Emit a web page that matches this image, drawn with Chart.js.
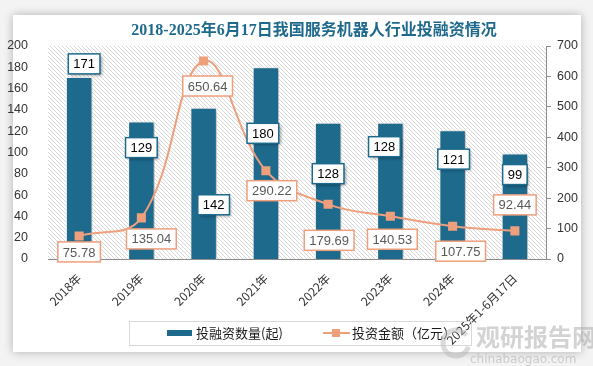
<!DOCTYPE html>
<html lang="zh">
<head>
<meta charset="UTF-8">
<title>服务机器人行业投融资情况</title>
<script src="https://cdn.jsdelivr.net/npm/chart.js"></script>
<style>
    html, body { margin: 0; padding: 0; background: #f3f3f3; }
    #wrap { position: relative; width: 593px; height: 366px; overflow: hidden; }
    #card { position: absolute; left: 13px; top: 15px; width: 568px; height: 337px; background: #fff; box-shadow: 0 0 9px rgba(0,0,0,0.28); }
    canvas { position: absolute; left: 0; top: 0; }
</style>
</head>
<body>
<div id="wrap">
    <div id="card"></div>
    <canvas id="c" width="593" height="366"></canvas>
</div>
<script>
    const title = '2018-2025年6月17日我国服务机器人行业投融资情况';
    const years = ['2018年', '2019年', '2020年', '2021年', '2022年', '2023年', '2024年', '2025年1-6月17日'];
    const dealCount = [171, 129, 142, 180, 128, 128, 121, 99];
    const dealAmount = [75.78, 135.04, 650.64, 290.22, 179.69, 140.53, 107.75, 92.44];
    const countName = '投融资数量(起)';
    const amountName = '投资金额（亿元）';

    // label placement (pixel offsets from the mark)
    const barLabelShift = [[5, -13], [0, 26], [10, 97], [-3, 66], [0, 51], [-6, 24], [1, 29], [0, 21]];
    const lineLabelShift = [[0, 16], [10, 21], [4, 25], [6, 20], [1, 36], [2, 23], [8, 25], [0, -26]];

    const BLUE = '#1d6a8d';
    const ORANGE = '#ee9f7c';

    function hatch() {
        const t = document.createElement('canvas');
        t.width = 4; t.height = 4;
        const g = t.getContext('2d');
        g.fillStyle = '#ffffff';
        g.fillRect(0, 0, 4, 4);
        g.strokeStyle = '#d8d8d8';
        g.lineWidth = 1;
        g.beginPath();
        g.moveTo(-1, -1); g.lineTo(5, 5);
        g.moveTo(-1, 3); g.lineTo(1, 5);
        g.moveTo(3, -1); g.lineTo(5, 1);
        g.stroke();
        return g.createPattern(t, 'repeat');
    }

    function box(ctx, x, y, text, border, color, shadow) {
        ctx.save();
        ctx.font = '13px "Liberation Sans", Arial, sans-serif';
        const w = ctx.measureText(text).width + 10;
        const h = 20;
        if (shadow) {
            ctx.shadowColor = 'rgba(0,0,0,0.35)';
            ctx.shadowBlur = 3;
            ctx.shadowOffsetX = 2;
            ctx.shadowOffsetY = 2;
        }
        ctx.fillStyle = '#fff';
        ctx.fillRect(x - w / 2, y - h / 2, w, h);
        ctx.shadowColor = 'transparent';
        ctx.strokeStyle = border;
        ctx.lineWidth = 1.5;
        ctx.strokeRect(x - w / 2, y - h / 2, w, h);
        ctx.fillStyle = color;
        ctx.textAlign = 'center';
        ctx.textBaseline = 'middle';
        ctx.fillText(text, x, y + 1);
        ctx.restore();
    }

    const decor = {
        id: 'decor',
        beforeDraw(chart) {
            const { ctx, chartArea: a } = chart;
            ctx.save();
            ctx.fillStyle = hatch();
            ctx.fillRect(a.left, a.top, a.right - a.left, a.bottom - a.top);
            ctx.font = 'bold 16px "Liberation Serif", "Noto Sans CJK SC", serif';
            ctx.fillStyle = '#1f6a8c';
            ctx.textAlign = 'center';
            ctx.textBaseline = 'middle';
            ctx.fillText(title, 314, 31);
            ctx.restore();
        },
        beforeDatasetDraw(chart, args) {
            if (args.index !== 0) return;
            const ctx = chart.ctx;
            ctx.save();
            ctx.shadowColor = 'rgba(0,0,0,0.3)';
            ctx.shadowBlur = 4;
            ctx.shadowOffsetX = 2;
            ctx.shadowOffsetY = 1;
        },
        afterDatasetDraw(chart, args) {
            if (args.index === 0) chart.ctx.restore();
        },
        afterDatasetsDraw(chart) {
            const ctx = chart.ctx;
            const bars = chart.getDatasetMeta(0).data;
            const pts = chart.getDatasetMeta(1).data;
            bars.forEach((b, i) => {
                box(ctx, b.x + barLabelShift[i][0], b.y + barLabelShift[i][1], String(dealCount[i]), BLUE, '#000', true);
            });
            pts.forEach((p, i) => {
                box(ctx, p.x + lineLabelShift[i][0], p.y + lineLabelShift[i][1], dealAmount[i].toFixed(2), ORANGE, '#595959', false);
            });
        },
        afterDraw(chart) {
            const ctx = chart.ctx;
            ctx.save();
            // legend
            ctx.strokeStyle = '#d9d9d9';
            ctx.lineWidth = 1;
            ctx.strokeRect(129.5, 321.5, 342, 24);
            ctx.fillStyle = BLUE;
            ctx.fillRect(167, 330, 25, 6);
            ctx.font = '13px "Noto Sans CJK SC", sans-serif';
            ctx.fillStyle = '#1a1a1a';
            ctx.textBaseline = 'middle';
            ctx.fillText(countName, 196, 333);
            ctx.strokeStyle = ORANGE;
            ctx.lineWidth = 2;
            ctx.beginPath(); ctx.moveTo(323, 333); ctx.lineTo(350, 333); ctx.stroke();
            ctx.fillStyle = ORANGE;
            ctx.fillRect(332, 329, 8, 8);
            ctx.fillStyle = '#1a1a1a';
            ctx.fillText(amountName, 352, 333);
            // watermark
            ctx.globalAlpha = 0.5;
            ctx.strokeStyle = '#b8b8b8';
            ctx.lineWidth = 5;
            ctx.beginPath(); ctx.arc(456, 343, 13, 0.3, Math.PI * 1.8); ctx.stroke();
            ctx.fillStyle = '#a8a8a8';
            ctx.font = 'bold 24px "Noto Sans CJK SC", sans-serif';
            ctx.fillText('观研报告网', 476, 337);
            ctx.font = '12px "DejaVu Sans", sans-serif';
            ctx.fillText('chinabaogao.com', 470, 360);
            ctx.restore();
        }
    };

    const tickFont = { family: '"Liberation Sans", Arial, sans-serif', size: 12.5 };

    new Chart(document.getElementById('c'), {
        data: {
            labels: years,
            datasets: [
                {
                    type: 'bar',
                    label: countName,
                    data: dealCount,
                    yAxisID: 'y',
                    backgroundColor: BLUE,
                    borderColor: '#ffffff',
                    borderWidth: 1,
                    categoryPercentage: 0.85,
                    barPercentage: 0.5,
                    order: 2
                },
                {
                    type: 'line',
                    label: amountName,
                    data: dealAmount,
                    yAxisID: 'y1',
                    borderColor: ORANGE,
                    borderWidth: 2,
                    tension: 0.4,
                    pointStyle: 'rect',
                    pointRadius: 5,
                    pointBackgroundColor: ORANGE,
                    pointBorderColor: ORANGE,
                    order: 1
                }
            ]
        },
        options: {
            responsive: false,
            animation: false,
            layout: { padding: { top: 46, left: 0, right: 0, bottom: 0 } },
            plugins: { legend: { display: false }, tooltip: { enabled: false } },
            scales: {
                x: {
                    grid: { display: false },
                    border: { display: true, color: '#8c8c8c' },
                    ticks: { color: '#333', font: { family: '"Noto Sans CJK SC", sans-serif', size: 12 }, minRotation: 45, maxRotation: 45, padding: 4 },
                    afterFit(s) { s.height = 107; }
                },
                y: {
                    position: 'left',
                    min: 0, max: 200,
                    grid: { display: false },
                    border: { display: false },
                    ticks: { stepSize: 20, color: '#333', font: tickFont, padding: 12 },
                    afterFit(s) { s.width = 48; }
                },
                y1: {
                    position: 'right',
                    min: 0, max: 700,
                    grid: { drawOnChartArea: false, drawTicks: true, tickLength: 5, color: '#8c8c8c' },
                    border: { display: true, color: '#8c8c8c' },
                    ticks: { stepSize: 100, color: '#333', font: tickFont, padding: 6 },
                    afterFit(s) { s.width = 47; }
                }
            }
        },
        plugins: [decor]
    });
</script>
</body>
</html>
